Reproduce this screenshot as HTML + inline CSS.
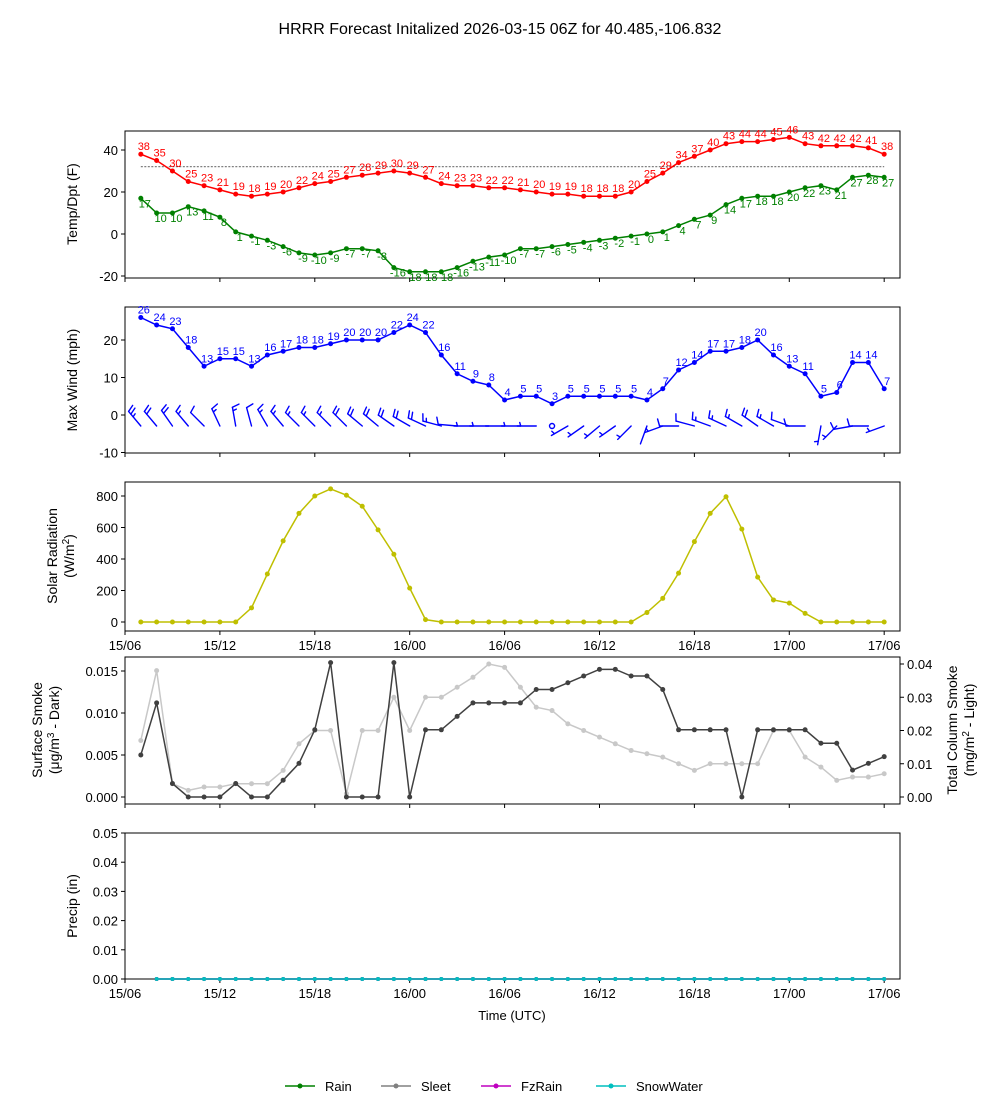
<!DOCTYPE html>
<html><head><meta charset="utf-8"><style>
body{margin:0;background:#fff;}
svg text{font-family:"Liberation Sans",sans-serif;}
</style></head><body>
<svg id="c" width="1000" height="1100" xmlns="http://www.w3.org/2000/svg">
<text x="500" y="34" text-anchor="middle" font-size="16">HRRR Forecast Initalized 2026-03-15 06Z for 40.485,-106.832</text>
</svg>
<script>
const hours=[];for(let i=1;i<=48;i++)hours.push(i);
const temp=[38,35,30,25,23,21,19,18,19,20,22,24,25,27,28,29,30,29,27,24,23,23,22,22,21,20,19,19,18,18,18,20,25,29,34,37,40,43,44,44,45,46,43,42,42,42,41,38];
const dewp=[17,10,10,13,11,8,1,-1,-3,-6,-9,-10,-9,-7,-7,-8,-16,-18,-18,-18,-16,-13,-11,-10,-7,-7,-6,-5,-4,-3,-2,-1,0,1,4,7,9,14,17,18,18,20,22,23,21,27,28,27];
const wind=[26,24,23,18,13,15,15,13,16,17,18,18,19,20,20,20,22,24,22,16,11,9,8,4,5,5,3,5,5,5,5,5,4,7,12,14,17,17,18,20,16,13,11,5,6,14,14,7];
const windDir=[320,320,325,320,315,335,350,345,330,320,315,315,315,315,310,310,305,300,295,285,275,270,270,270,270,270,0,240,235,230,235,225,200,250,270,285,290,295,300,305,300,290,270,190,225,260,270,250];
const solar=[0,0,0,0,0,0,0,90,305,515,690,800,845,805,735,585,430,215,15,0,0,0,0,0,0,0,0,0,0,0,0,0,60,150,310,510,690,795,590,285,140,120,55,0,0,0,0,0];
const smokeDark=[0.005,0.0112,0.0016,0,0,0,0.0016,0,0,0.002,0.004,0.008,0.016,0,0,0,0.016,0,0.008,0.008,0.0096,0.0112,0.0112,0.0112,0.0112,0.0128,0.0128,0.0136,0.0144,0.0152,0.0152,0.0144,0.0144,0.0128,0.008,0.008,0.008,0.008,0,0.008,0.008,0.008,0.008,0.0064,0.0064,0.0032,0.004,0.0048];
const smokeLight=[0.017,0.038,0.004,0.002,0.003,0.003,0.004,0.004,0.004,0.008,0.016,0.02,0.02,0.001,0.02,0.02,0.03,0.02,0.03,0.03,0.033,0.036,0.04,0.039,0.033,0.027,0.026,0.022,0.02,0.018,0.016,0.014,0.013,0.012,0.01,0.008,0.01,0.01,0.01,0.01,0.02,0.02,0.012,0.009,0.005,0.006,0.006,0.007];
const precip=[0,0,0,0,0,0,0,0,0,0,0,0,0,0,0,0,0,0,0,0,0,0,0,0,0,0,0,0,0,0,0,0,0,0,0,0,0,0,0,0,0,0,0,0,0,0,0,0];
const xTickLabels=["15/06","15/12","15/18","16/00","16/06","16/12","16/18","17/00","17/06"];
const legendLabels=["Rain","Sleet","FzRain","SnowWater"];

const svg=document.getElementById('c');const NS='http://www.w3.org/2000/svg';
function el(t,a,p){const e=document.createElementNS(NS,t);for(const k in a)e.setAttribute(k,a[k]);(p||svg).appendChild(e);return e;}
const X0=125,X1=900;
const xs=h=>X0+h*(X1-X0)/49;
function lin(d0,d1,r0,r1){return v=>r0+(v-d0)*(r1-r0)/(d1-d0);}
function frame(top,bot,name){const g=el('g',{});
 el('rect',{x:X0,y:top,width:X1-X0,height:bot-top,fill:'none',stroke:'#000','stroke-width':1},g);
 xTickLabels.forEach((t,i)=>{const x=xs(i*6);el('line',{x1:x,x2:x,y1:bot,y2:bot+4,stroke:'#000'},g);});return g;}
function yticks(g,ys,vals,fmt,right){vals.forEach(v=>{const y=ys(v);const x=right?X1:X0;
 el('line',{x1:x,x2:right?x+4:x-4,y1:y,y2:y,stroke:'#000'},g);
 const t=el('text',{x:right?x+7:x-7,y:y+5,'font-size':13,'text-anchor':right?'start':'end'},g);t.textContent=fmt(v);});}
function ylabel(g,x,cy,lines){lines.forEach((l,i)=>{const t=el('text',{x:0,y:0,'font-size':14,'text-anchor':'middle',transform:`translate(${x+i*17},${cy}) rotate(-90)`},g);t.innerHTML=l;});}
function series(g,data,ys,color,name,r){const pts=data.map((v,i)=>xs(hours[i])+','+ys(v)).join(' ');
 const pl=el('polyline',{points:pts,fill:'none',stroke:color,'stroke-width':1.5},g);
 data.forEach((v,i)=>{const c=el('circle',{cx:xs(hours[i]),cy:ys(v),r:r||2.5,fill:color},g);});}
function labels(g,data,ys,color,dy,dx){data.forEach((v,i)=>{const t=el('text',{x:xs(hours[i])+(dx||0),y:ys(v)+dy,'font-size':11,fill:color,'text-anchor':'middle'},g);t.textContent=v;});}

// Panel 1
{const g=frame(131,278,'temp-dewpoint-panel');const ys=lin(0,40,234,150);
 yticks(g,ys,[-20,0,20,40],v=>v);ylabel(g,77,204,['Temp/Dpt (F)']);
 el('line',{x1:xs(1),x2:xs(48),y1:ys(32),y2:ys(32),stroke:'#000','stroke-width':0.6,'stroke-dasharray':'2,1.5'},g);
 series(g,temp,ys,'#ff0000','temperature');series(g,dewp,ys,'#008000','dewpoint');
 labels(g,temp,ys,'#ff0000',-4,3);labels(g,dewp,ys,'#008000',9,4);}
// Panel 2
{const g=frame(307,453,'max-wind-panel');const ys=lin(0,20,415,340);
 yticks(g,ys,[-10,0,10,20],v=>v);ylabel(g,77,380,['Max Wind (mph)']);
 series(g,wind,ys,'#0000ff','max-wind');labels(g,wind,ys,'#0000ff',-4,3);
 windDir.forEach((d,i)=>{const x=xs(hours[i]),y=426;const b=el('g',{stroke:'#0000ff','stroke-width':1.4,fill:'none','stroke-linecap':'round'},g);
  
  if(wind[i]<=3){el('circle',{cx:x,cy:y,r:2.5},b);return;}
  const a=d*Math.PI/180,L=19;const dx=Math.sin(a),dy=-Math.cos(a);
  const tx=x+dx*L,ty=y+dy*L;
  el('line',{x1:x,y1:y,x2:tx,y2:ty},b);
  const px=-dy,py=dx; // perpendicular (clockwise side)
  let n=Math.floor(wind[i]/10),half=(wind[i]%10)>=5;let k=0;
  for(;k<n;k++){const bx=tx-dx*k*3.5,by=ty-dy*k*3.5;el('line',{x1:bx,y1:by,x2:bx+px*7+dx*2,y2:by+py*7+dy*2},b);}
  if(half){const off=(n===0?1:k);const bx=tx-dx*off*3.5,by=ty-dy*off*3.5;el('line',{x1:bx,y1:by,x2:bx+px*3.5+dx*1,y2:by+py*3.5+dy*1},b);}});}
// Panel 3
{const g=frame(482,631,'solar-radiation-panel');const ys=lin(0,800,622,496);
 yticks(g,ys,[0,200,400,600,800],v=>v);ylabel(g,57,556,['Solar Radiation','(W/m<tspan dy="-5" font-size="10">2</tspan><tspan dy="5">)</tspan>']);
 series(g,solar,ys,'#bfbf00','solar-radiation');
 xTickLabels.forEach((t,i)=>{const tt=el('text',{x:xs(i*6),y:650,'font-size':13,'text-anchor':'middle'},g);tt.textContent=t;});}
// Panel 4
{const g=frame(657,804,'smoke-panel');const ys=lin(0,0.015,797,671);const yr=lin(0,0.04,797,664);
 yticks(g,ys,[0,0.005,0.01,0.015],v=>v.toFixed(3));yticks(g,yr,[0,0.01,0.02,0.03,0.04],v=>v.toFixed(2),true);
 ylabel(g,42,730,['Surface Smoke','(μg/m<tspan dy="-5" font-size="10">3</tspan><tspan dy="5"> - Dark)</tspan>']);
 ylabel(g,957,730,['Total Column Smoke','(mg/m<tspan dy="-5" font-size="10">2</tspan><tspan dy="5"> - Light)</tspan>']);
 series(g,smokeLight,yr,'#c8c8c8','column-smoke');series(g,smokeDark,ys,'#404040','surface-smoke');}
// Panel 5
{const g=frame(833,979,'precip-panel');const ys=lin(0,0.05,979,833);
 yticks(g,ys,[0,0.01,0.02,0.03,0.04,0.05],v=>v.toFixed(2));ylabel(g,77,906,['Precip (in)']);
 const ph=precip.slice(1);const cols=['#008000','#808080','#bf00bf','#00bfbf'];
 cols.forEach((c,k)=>{const pts=ph.map((v,i)=>xs(hours[i+1])+','+ys(v)).join(' ');el('polyline',{points:pts,fill:'none',stroke:c,'stroke-width':1.5},g);
  ph.forEach((v,i)=>el('circle',{cx:xs(hours[i+1]),cy:ys(v),r:2,fill:c},g));});
 xTickLabels.forEach((t,i)=>{const tt=el('text',{x:xs(i*6),y:998,'font-size':13,'text-anchor':'middle'},g);tt.textContent=t;});
 const tl=el('text',{x:512,y:1020,'font-size':13,'text-anchor':'middle'},g);tl.textContent='Time (UTC)';}
// Legend
{const g=el('g',{});
 const cols=['#008000','#808080','#bf00bf','#00bfbf'];const lx=[285,381,481,596];
 legendLabels.forEach((l,i)=>{const e=el('g',{},g);
  el('line',{x1:lx[i],x2:lx[i]+30,y1:1086,y2:1086,stroke:cols[i],'stroke-width':1.5},e);el('circle',{cx:lx[i]+15,cy:1086,r:2.5,fill:cols[i]},e);
  const t=el('text',{x:lx[i]+40,y:1091,'font-size':13},e);t.textContent=l;});}
</script>
</body></html>
